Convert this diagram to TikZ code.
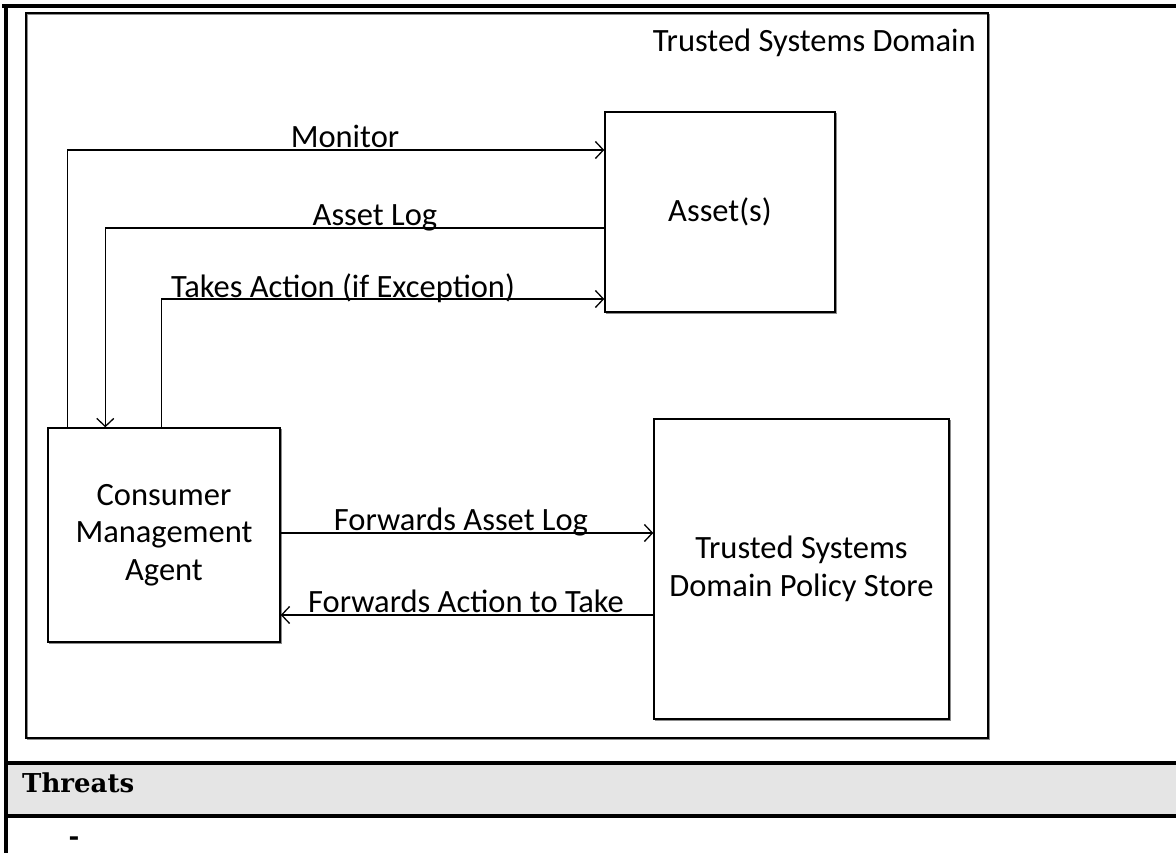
\documentclass[tikz,border=0pt]{standalone}
\usepackage{fontspec}
\newfontfamily\calibri{Carlito}
\newfontfamily\headserif{DejaVu Serif}
\usetikzlibrary{arrows.meta,shadows}

\tikzset{
  boxline/.style={line width=1.4pt},
  block/.style={boxline, draw=black, fill=white, font=\calibri\fontsize{32.5}{37.5}\selectfont,
    align=center, inner sep=0pt,
    drop shadow={shadow xshift=1.2pt, shadow yshift=-1.2pt, fill=none, draw=black!45, opacity=1}},
  link/.style={line width=1.4pt, -{Straight Barb[length=8pt, width=17pt, line width=1.3pt]}},
  lbl/.style={font=\calibri\fontsize{32.5}{38}\selectfont, anchor=base, inner sep=0pt},
  rule/.style={line width=3.2pt, line cap=rect},
  head/.style={inner sep=0pt, font=\headserif\bfseries\fontsize{26}{30}\selectfont}
}

\begin{document}
\begin{tikzpicture}[x=1pt, y=-1pt]
  \useasboundingbox (0,0) rectangle (1176,852);

  % page frame and the Threats band
  \fill[black!10] (6,763) rectangle (1176,816);
  \draw[rule] (6,763) -- (1176,763);
  \draw[rule] (6,816) -- (1176,816);
  \draw[rule] (4,6) -- (1176,6);
  \draw[rule] (6,6) -- (6,852);
  \node[head, anchor=base west] (threats) at (22,792) {Threats};
  \node[head, anchor=base] (dash) at (74,845) {-};

  % trust domain boundary
  \draw[black!45, line width=1.3pt] (27.2,14.2) rectangle (989.2,739.2);
  \draw[boxline] (26,13) rectangle (988,738);
  \node[lbl, anchor=base east] (domain) at (976,51) {Trusted Systems Domain};

  % components
  \node[block, minimum width=230pt, minimum height=200pt] (asset) at (720,212) {Asset(s)};
  \node[block, minimum width=232pt, minimum height=214pt] (cma) at (164,535)
       {Consumer\\Management\\Agent};
  \node[block, minimum width=295pt, minimum height=300pt] (store) at (801.5,569)
       {Trusted Systems\\Domain Policy Store};

  % connector levels
  \coordinate (monY) at (0,150);
  \coordinate (logY) at (0,228);
  \coordinate (actY) at (0,299);
  \coordinate (fwdY) at (0,533);
  \coordinate (bckY) at (0,615);

  \draw[link] ([xshift=20pt]cma.north west) |- (asset.west |- monY);
  \draw[link] (asset.west |- logY) -| ([xshift=58pt]cma.north west);
  \draw[link] ([xshift=114pt]cma.north west) |- (asset.west |- actY);
  \draw[link] (cma.east |- fwdY) -- (store.west |- fwdY);
  \draw[link] (store.west |- bckY) -- (cma.east |- bckY);

  % connector labels
  \node[lbl] (lmon) at (345,147) {Monitor};
  \node[lbl] (llog) at (375,225) {Asset Log};
  \node[lbl] (lact) at (343,297) {Takes Action (if Exception)};
  \node[lbl] (lfwd) at (461,530) {Forwards Asset Log};
  \node[lbl] (lbck) at (466,612) {Forwards Action to Take};
\end{tikzpicture}
\end{document}
